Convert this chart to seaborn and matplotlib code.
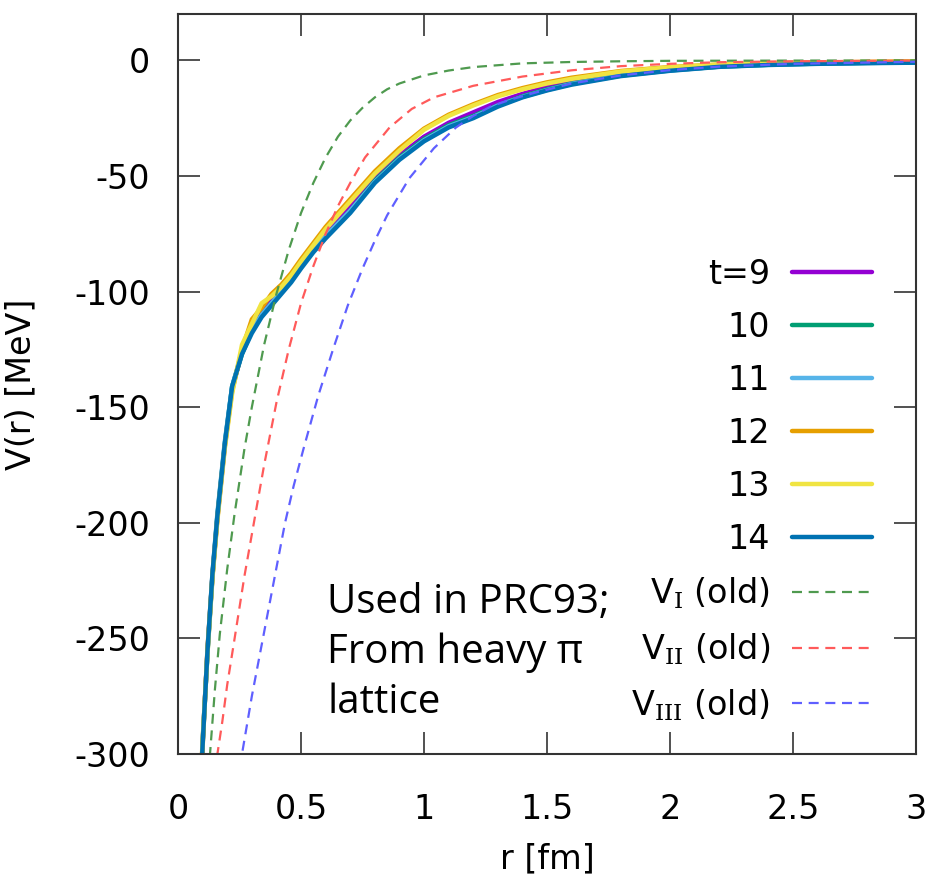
import matplotlib
matplotlib.use('Agg')
import matplotlib.pyplot as plt
import seaborn as sns

# lattice potentials, one curve per sink time t
r_lat = [0.09, 0.10, 0.12, 0.14, 0.16, 0.19, 0.22, 0.26, 0.30, 0.34, 0.38, 0.42, 0.46,
         0.50, 0.55, 0.60, 0.70, 0.80, 0.90, 1.00, 1.10, 1.20, 1.30, 1.40, 1.50, 1.60,
         1.80, 2.00, 2.20, 2.40, 2.60, 2.80, 3.00]
v_t9 = [-318, -295, -255, -223, -198, -167, -142, -126, -116, -109, -104, -99, -94,
        -88, -81, -75, -63, -51, -41, -33, -27, -22.5, -18, -14.5, -11.5, -9.2,
        -5.8, -3.8, -2.4, -1.7, -1.3, -1.0, -0.8]
v_t10 = [-319, -295, -256, -223, -197, -166, -141, -127, -117, -110, -105, -100, -95,
         -89, -82, -76, -65, -52, -42, -34, -28, -24, -19.5, -15.5, -12.5, -10,
         -6.5, -4.3, -2.7, -1.9, -1.4, -1.1, -0.9]
v_t11 = [-320, -296, -255, -222, -196, -165, -141, -126, -117, -110, -105, -100, -95,
         -89, -82, -76, -65, -52.5, -42.5, -34.5, -28.5, -24.5, -19.5, -15.8, -12.8, -10.2,
         -6.6, -4.4, -2.7, -1.9, -1.4, -1.1, -0.9]
v_t12 = [-322, -297, -254, -223, -198, -167, -143, -125, -112, -107, -101, -97, -92,
         -86, -79, -72, -60, -48, -38, -29.5, -23.5, -19, -15, -12, -9.5, -7.5,
         -4.6, -2.9, -1.8, -1.2, -0.9, -0.7, -0.5]
v_t13 = [-318, -294, -256, -224, -199, -168, -144, -123, -114, -105, -102, -98, -93,
         -87, -80, -73, -61, -49, -39, -30, -24, -19.5, -15.5, -12.5, -10, -8,
         -4.8, -3.0, -1.8, -1.3, -0.9, -0.7, -0.5]
v_t14 = [-320, -296, -255, -222, -197, -166, -141, -127, -118, -111, -106, -101, -96,
         -90, -83, -77, -66, -53, -43, -35, -29, -25, -20, -16, -13, -10.5,
         -6.8, -4.5, -2.8, -2.0, -1.5, -1.2, -1.0]

t_labels = ['t=9', '10', '11', '12', '13', '14']
t_colors = ['#9400d3', '#009e73', '#56b4e9', '#e69f00', '#f0e442', '#0072b2']

# old potentials (dashed)
r_I = [0.11, 0.13, 0.15, 0.17, 0.20, 0.23, 0.27, 0.30, 0.35, 0.40, 0.45, 0.50, 0.55,
       0.60, 0.65, 0.70, 0.75, 0.80, 0.85, 0.90, 1.00, 1.10, 1.20, 1.40, 1.60, 1.80,
       2.00, 2.50, 3.00]
v_I = [-330, -300, -272, -248, -220, -196, -168, -150, -123, -101, -82, -66, -53,
       -42, -33, -26, -20.5, -16, -12.5, -10, -6.5, -4.4, -2.9, -1.3, -0.7, -0.4,
       -0.2, -0.1, 0.0]
r_II = [0.14, 0.16, 0.18, 0.20, 0.23, 0.27, 0.31, 0.35, 0.40, 0.45, 0.50, 0.55, 0.60,
        0.65, 0.70, 0.76, 0.86, 0.95, 1.04, 1.12, 1.20, 1.30, 1.40, 1.60, 1.80, 2.00,
        2.20, 2.50, 3.00]
v_II = [-330, -300, -286, -270, -250, -223, -199, -175, -148, -125, -105, -89, -75,
        -63, -53, -42, -29, -21, -16, -13.5, -11, -9, -7, -4.3, -2.5, -1.5,
        -0.8, -0.4, -0.1]
r_III = [0.24, 0.26, 0.30, 0.345, 0.39, 0.435, 0.47, 0.51, 0.57, 0.63, 0.69, 0.75, 0.80,
         0.85, 0.94, 1.04, 1.13, 1.20, 1.27, 1.35, 1.45, 1.60, 1.80, 2.00, 2.20, 2.50, 3.00]
v_III = [-320, -300, -275, -250, -225, -200, -184, -168, -145, -125, -106, -90, -78,
         -67, -51, -38, -29, -24, -20, -17, -14, -10, -6.5, -4.2, -2.7, -1.5, -0.6]

old_labels = [r'V$_{\mathrm{I}}$ (old)', r'V$_{\mathrm{II}}$ (old)', r'V$_{\mathrm{III}}$ (old)']
old_colors = ['#4f9a4f', '#ff5a5a', '#5f5fff']

x_ticks = [0, 0.5, 1, 1.5, 2, 2.5, 3]
x_ticklabels = ['0', '0.5', '1', '1.5', '2', '2.5', '3']
y_ticks = [0, -50, -100, -150, -200, -250, -300]
y_ticklabels = ['0', '-50', '-100', '-150', '-200', '-250', '-300']

sns.set_theme(style='ticks')
plt.rcParams['font.family'] = ['DejaVu Sans']
plt.rcParams['mathtext.fontset'] = 'custom'
plt.rcParams['mathtext.rm'] = 'DejaVu Serif'
plt.rcParams['text.color'] = 'black'
plt.rcParams['axes.labelcolor'] = 'black'

fig, ax = plt.subplots(figsize=(9.32, 8.82), dpi=100)
fig.subplots_adjust(left=0.191, right=0.983, bottom=0.145, top=0.984)

handles = []
for v, lab, col in zip([v_t9, v_t10, v_t11, v_t12, v_t13, v_t14], t_labels, t_colors):
    sns.lineplot(x=r_lat, y=v, color=col, linewidth=3.2, sort=False,
                 estimator=None, ax=ax, label=lab, legend=False)
    handles.append(ax.get_lines()[-1])

for r, v, lab, col in zip([r_I, r_II, r_III], [v_I, v_II, v_III], old_labels, old_colors):
    sns.lineplot(x=r, y=v, color=col, linewidth=1.6, linestyle=(0, (4.5, 3)),
                 sort=False, estimator=None, ax=ax, label=lab, legend=False)
    handles.append(ax.get_lines()[-1])

ax.set_xlim(0, 3)
ax.set_ylim(-300, 20)
ax.set_xticks(x_ticks)
ax.set_xticklabels(x_ticklabels)
ax.set_yticks(y_ticks)
ax.set_yticklabels(y_ticklabels)
ax.tick_params(direction='in', length=16, width=1.2, top=True, right=True,
               labelsize=24, color='#333333', labelcolor='black')
ax.tick_params(axis='x', pad=28)
ax.tick_params(axis='y', pad=20)
for s in ax.spines.values():
    s.set_linewidth(1.5)
    s.set_color('#333333')

ax.set_xlabel('r [fm]', fontsize=24)
ax.set_ylabel('V(r) [MeV]', fontsize=24)
ax.xaxis.set_label_coords(0.5, -0.12)
ax.yaxis.set_label_coords(-0.19, 0.5)

ax.legend(handles, [h.get_label() for h in handles], loc='upper right',
          bbox_to_anchor=(0.94, 0.671), frameon=False, markerfirst=False,
          fontsize=24, handlelength=2.4, handletextpad=0.66, labelspacing=0.6,
          borderpad=0, borderaxespad=0)

ax.text(0.606, -226, 'Used in PRC93;\nFrom heavy π\nlattice', fontsize=29,
        family=['Open Sans', 'DejaVu Sans'], va='top', ha='left', linespacing=1.3)

plt.savefig('out.png', dpi=100)
